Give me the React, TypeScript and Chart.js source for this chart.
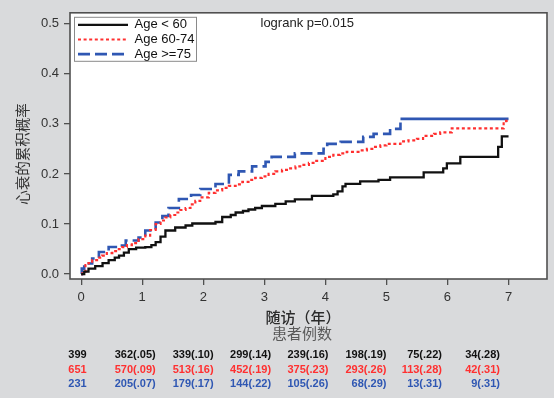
import { useEffect, useRef } from "react";
import { Chart, registerables } from "chart.js";

Chart.register(...registerables);

const groupLabels = ["Age < 60", "Age 60-74", "Age >=75"];

const under60Time = [0, 0.05, 0.12, 0.23, 0.35, 0.45, 0.55, 0.62, 0.7, 0.78, 0.9, 1.05, 1.15, 1.22, 1.3, 1.38, 1.54, 1.71, 1.82, 2.2, 2.31, 2.45, 2.53, 2.65, 2.74, 2.85, 2.96, 3.18, 3.35, 3.5, 3.78, 4.13, 4.2, 4.28, 4.33, 4.57, 4.87, 5.06, 5.61, 5.93, 5.99, 6.21, 6.83, 6.89, 7.0];
const under60Prob = [0, 0.005, 0.011, 0.016, 0.022, 0.028, 0.033, 0.037, 0.043, 0.05, 0.053, 0.054, 0.058, 0.064, 0.075, 0.087, 0.093, 0.097, 0.101, 0.104, 0.114, 0.118, 0.123, 0.126, 0.129, 0.132, 0.136, 0.14, 0.145, 0.149, 0.156, 0.159, 0.165, 0.175, 0.18, 0.185, 0.188, 0.193, 0.203, 0.211, 0.221, 0.234, 0.254, 0.275, 0.275];

const age6074Time = [0, 0.02, 0.07, 0.12, 0.18, 0.26, 0.34, 0.42, 0.51, 0.59, 0.67, 0.75, 0.83, 0.94, 1.05, 1.13, 1.22, 1.3, 1.38, 1.46, 1.54, 1.62, 1.71, 1.79, 1.87, 1.95, 2.09, 2.2, 2.31, 2.42, 2.53, 2.64, 2.74, 2.85, 2.96, 3.07, 3.18, 3.29, 3.4, 3.51, 3.62, 3.73, 3.83, 4.0, 4.13, 4.24, 4.35, 4.57, 4.68, 4.79, 4.9, 5.0, 5.23, 5.36, 5.5, 5.6, 5.78, 5.88, 6.07, 6.92, 6.96, 7.0];
const age6074Prob = [0, 0.005, 0.018, 0.022, 0.028, 0.033, 0.037, 0.042, 0.046, 0.05, 0.054, 0.058, 0.062, 0.07, 0.077, 0.088, 0.1, 0.107, 0.113, 0.118, 0.123, 0.128, 0.132, 0.139, 0.146, 0.153, 0.162, 0.167, 0.172, 0.176, 0.179, 0.184, 0.188, 0.192, 0.195, 0.2, 0.205, 0.208, 0.211, 0.215, 0.218, 0.222, 0.226, 0.234, 0.238, 0.241, 0.244, 0.247, 0.25, 0.254, 0.257, 0.26, 0.265, 0.267, 0.27, 0.276, 0.28, 0.283, 0.291, 0.303, 0.306, 0.306];

const age75Time = [0, 0.01, 0.05, 0.18, 0.29, 0.45, 0.62, 0.73, 0.94, 1.05, 1.22, 1.33, 1.43, 1.6, 1.8, 1.95, 2.2, 2.42, 2.58, 2.8, 3.02, 3.12, 3.5, 3.97, 4.03, 4.25, 4.62, 4.79, 5.06, 5.23, 7.0];
const age75Prob = [0, 0.011, 0.021, 0.031, 0.044, 0.054, 0.057, 0.067, 0.073, 0.087, 0.103, 0.116, 0.132, 0.15, 0.158, 0.17, 0.18, 0.198, 0.205, 0.215, 0.224, 0.234, 0.241, 0.25, 0.26, 0.264, 0.274, 0.28, 0.29, 0.31, 0.31];

const xTickValues = [0, 1, 2, 3, 4, 5, 6, 7];
const yTickValues = [0, 0.1, 0.2, 0.3, 0.4, 0.5];

const riskUnder60 = ["399", "362(.05)", "339(.10)", "299(.14)", "239(.16)", "198(.19)", "75(.22)", "34(.28)"];
const risk6074 = ["651", "570(.09)", "513(.16)", "452(.19)", "375(.23)", "293(.26)", "113(.28)", "42(.31)"];
const risk75 = ["231", "205(.07)", "179(.17)", "144(.22)", "105(.26)", "68(.29)", "13(.31)", "9(.31)"];
// right edge of each risk-table column, in years on the x scale
const riskAnchors = [0.09, 1.22, 2.17, 3.11, 4.05, 5.0, 5.91, 6.86];

const pValueText = "logrank p=0.015";
const xTitle = "随访（年）";
const riskTitle = "患者例数";
const yTitle = "心衰的累积概率";

const COLORS = ["#111111", "#ff3030", "#2f57b3"];
const DASHES: number[][] = [[], [3, 2.6], [12, 5]];
const WIDTHS = [2.3, 2.2, 2.6];
const LATIN = "'Liberation Sans', Arial, sans-serif";
const CJK = "'Noto Sans CJK SC', sans-serif";

const toPoints = (t: number[], p: number[]) => t.map((x, i) => ({ x, y: p[i] }));

const decorPlugin = {
  id: "decor",
  beforeDraw(chart: any) {
    const { ctx, chartArea } = chart;
    const { left, top, right, bottom } = chartArea;
    ctx.save();
    ctx.fillStyle = "#d9dadc";
    ctx.fillRect(0, 0, chart.width, chart.height);
    ctx.fillStyle = "#ffffff";
    ctx.fillRect(left, top, right - left, bottom - top);
    ctx.restore();
  },
  afterDraw(chart: any) {
    const { ctx, chartArea } = chart;
    const { left, top, right, bottom } = chartArea;
    const xs = chart.scales.x;
    ctx.save();
    // frame
    ctx.strokeStyle = "#505050";
    ctx.lineWidth = 1.6;
    ctx.strokeRect(left, top, right - left, bottom - top);

    // legend
    ctx.strokeStyle = "#8a8a8a";
    ctx.lineWidth = 1;
    ctx.strokeRect(left + 4.5, top + 4.5, 122, 44);
    const rows = [12, 26.7, 41.3];
    chart.data.datasets.forEach((ds: any, i: number) => {
      const y = top + rows[i];
      ctx.beginPath();
      ctx.setLineDash(DASHES[i]);
      ctx.strokeStyle = COLORS[i];
      ctx.lineWidth = WIDTHS[i];
      ctx.moveTo(left + 8, y);
      ctx.lineTo(left + 58, y);
      ctx.stroke();
      ctx.setLineDash([]);
      ctx.fillStyle = "#111";
      ctx.font = `13px ${LATIN}`;
      ctx.textAlign = "left";
      ctx.textBaseline = "middle";
      ctx.fillText(ds.label, left + 64.5, y);
    });

    // p value
    ctx.fillStyle = "#222";
    ctx.font = `13px ${LATIN}`;
    ctx.textAlign = "left";
    ctx.textBaseline = "middle";
    ctx.fillText(pValueText, 260.5, top + 11);

    // y title
    ctx.save();
    ctx.translate(22, 154);
    ctx.rotate(-Math.PI / 2);
    ctx.textAlign = "center";
    ctx.fillStyle = "#333";
    ctx.font = `14.5px ${CJK}`;
    ctx.fillText(yTitle, 0, 0);
    ctx.restore();

    // x title & risk title
    ctx.textAlign = "center";
    ctx.fillStyle = "#2a2a2a";
    ctx.font = `500 15px ${CJK}`;
    ctx.fillText(xTitle, 303, 317);
    ctx.fillStyle = "#5a5a5a";
    ctx.font = `15px ${CJK}`;
    ctx.fillText(riskTitle, 302, 333);

    // risk table
    const tables = [riskUnder60, risk6074, risk75];
    const rowY = [355, 370, 384];
    ctx.font = `bold 11px ${LATIN}`;
    ctx.textAlign = "right";
    tables.forEach((row, r) => {
      ctx.fillStyle = COLORS[r];
      row.forEach((txt, c) => {
        ctx.fillText(txt, xs.getPixelForValue(riskAnchors[c]), rowY[r]);
      });
    });
    ctx.restore();
  },
};

export default function App() {
  const ref = useRef<HTMLCanvasElement | null>(null);
  useEffect(() => {
    if (!ref.current) return;
    const series = [
      toPoints(under60Time, under60Prob),
      toPoints(age6074Time, age6074Prob),
      toPoints(age75Time, age75Prob),
    ];
    const chart = new Chart(ref.current, {
      type: "line",
      data: {
        datasets: series.map((data, i) => ({
          label: groupLabels[i],
          data,
          borderColor: COLORS[i],
          borderWidth: WIDTHS[i],
          borderDash: DASHES[i],
          stepped: "before" as const,
          pointRadius: 0,
          fill: false,
          segment:
            i === 2
              ? { borderDash: (c: any) => (c.p0.parsed.x >= 5.2 ? [] : undefined) }
              : undefined,
        })),
      },
      options: {
        animation: false,
        responsive: false,
        devicePixelRatio: 1,
        layout: { padding: { top: 9, right: 7, bottom: 0, left: 0 } },
        plugins: { legend: { display: false }, tooltip: { enabled: false } },
        scales: {
          x: {
            type: "linear",
            min: -0.183,
            max: 7.63,
            afterBuildTicks: (s: any) => {
              s.ticks = xTickValues.map((v) => ({ value: v }));
            },
            afterFit: (s: any) => {
              s.height = 119;
            },
            grid: { drawOnChartArea: false, drawTicks: true, tickLength: 6, color: "#505050", lineWidth: 1.3 },
            border: { display: false },
            ticks: { color: "#333", font: { size: 13, family: LATIN }, padding: 5, maxRotation: 0, callback: (v: any) => String(v) },
          },
          y: {
            type: "linear",
            min: -0.0098,
            max: 0.5217,
            afterBuildTicks: (s: any) => {
              s.ticks = yTickValues.map((v) => ({ value: v }));
            },
            afterFit: (s: any) => {
              s.width = 70;
            },
            grid: { drawOnChartArea: false, drawTicks: true, tickLength: 6, color: "#505050", lineWidth: 1.3 },
            border: { display: false },
            ticks: { color: "#333", font: { size: 13, family: LATIN }, padding: 5, callback: (v: any) => Number(v).toFixed(1) },
          },
        },
      },
      plugins: [decorPlugin],
    });
    return () => chart.destroy();
  }, []);
  return (
    <div style={{ position: "absolute", left: 0, top: 0, width: 554, height: 398 }}>
      <canvas ref={ref} width={554} height={398} />
    </div>
  );
}
